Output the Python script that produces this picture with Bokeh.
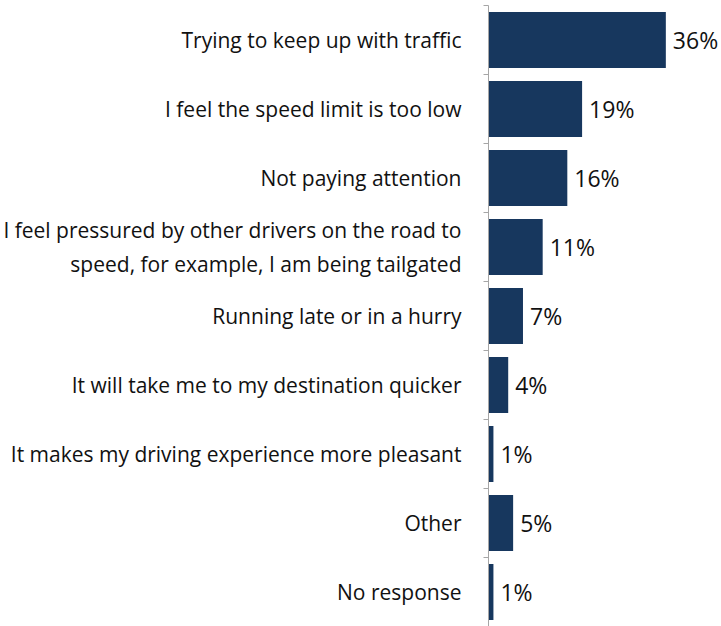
from bokeh.plotting import figure
from bokeh.models import Range1d, FixedTicker, ColumnDataSource
from bokeh.embed import file_html
from bokeh.resources import INLINE
from bokeh.core.properties import value

categories = [
    "Trying to keep up with traffic",
    "I feel the speed limit is too low",
    "Not paying attention",
    "I feel pressured by other drivers on the road to\nspeed, for example, I am being tailgated",
    "Running late or in a hurry",
    "It will take me to my destination quicker",
    "It makes my driving experience more pleasant",
    "Other",
    "No response",
]
values = [36, 19, 16, 11, 7, 4, 1, 5, 1]
value_labels = [f"{v}%" for v in values]

n = len(categories)
ypos = list(range(n))

src = ColumnDataSource(dict(y=ypos, v=values, lab=value_labels))

p = figure(width=721, height=626, output_backend="svg", toolbar_location=None,
           x_range=Range1d(0, 47.3), y_range=Range1d(n - 0.5, -0.5),
           min_border_left=487, min_border_right=0, min_border_top=5, min_border_bottom=0)
p.outline_line_color = None
p.grid.visible = False
p.xaxis.visible = False

p.hbar(y="y", right="v", left=0, height=0.81, source=src, color="#17375E", line_color=None)
p.text(x="v", y="y", text="lab", source=src, x_offset=7, text_baseline="middle",
       text_align="left", text_font=value("Open Sans"), text_font_size="23px",
       text_color="#111111")

ax = p.yaxis[0]
ax.ticker = FixedTicker(ticks=ypos, minor_ticks=[i - 0.5 for i in range(n + 1)])
ax.major_label_overrides = {i: c for i, c in zip(ypos, categories)}
ax.major_tick_line_color = None
ax.minor_tick_line_color = "#A6A6A6"
ax.minor_tick_out = 5
ax.minor_tick_in = 0
ax.axis_line_color = "#A6A6A6"
ax.axis_line_width = 1
ax.major_label_standoff = 21
ax.major_label_text_font = "Open Sans"
ax.major_label_text_font_size = "21px"
ax.major_label_text_color = "#111111"

open("out.html", "w").write(file_html(p, INLINE))
